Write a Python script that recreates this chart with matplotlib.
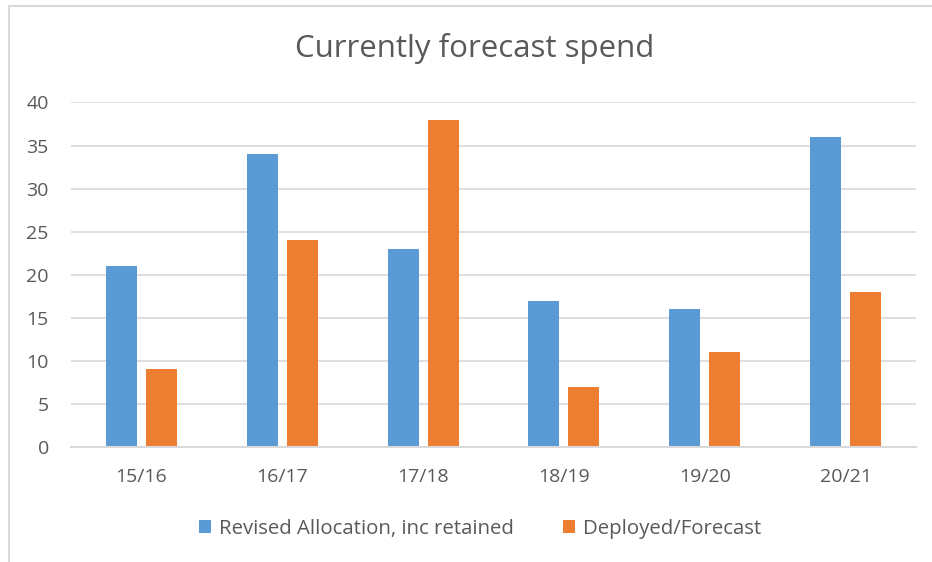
import numpy as np
import matplotlib
matplotlib.use("Agg")
import matplotlib.pyplot as plt
from matplotlib.patches import Rectangle

plt.rcParams['font.family'] = ['Open Sans', 'DejaVu Sans']

# data
years = ["15/16", "16/17", "17/18", "18/19", "19/20", "20/21"]
revised = [21, 34, 23, 17, 16, 36]
deployed = [9, 24, 38, 7, 11, 18]

blue = "#5B9BD5"
orange = "#ED7D31"
text_col = "#595959"
grid_col = "#D9D9D9"

fig = plt.figure(figsize=(9.32, 5.62), dpi=100)
W, H = 932, 562

# outer chart border (light grey, clipped by image edges)
fig.patches.append(Rectangle((9 / W, -0.1), 1.2, (H - 6) / H + 0.1, transform=fig.transFigure,
                             fill=False, edgecolor=grid_col, linewidth=1.5))

ax = fig.add_axes([71 / W, (H - 447) / H, (916 - 71) / W, (447 - 102.5) / H])

x = np.arange(len(years))
w = 0.22
off = 0.142
ax.bar(x - off, revised, w, color=blue, label="Revised Allocation, inc retained", zorder=3)
ax.bar(x + off, deployed, w, color=orange, label="Deployed/Forecast", zorder=3)

ax.set_xlim(-0.5, len(years) - 0.5)
ax.set_ylim(0, 40)
ax.set_yticks(range(0, 41, 5))
ax.set_xticks(x)
ax.set_xticklabels(years)
ax.yaxis.grid(True, color=grid_col, linewidth=1.2, zorder=0)
for s in ["top", "right", "left"]:
    ax.spines[s].set_visible(False)
ax.spines["bottom"].set_color(grid_col)
ax.spines["bottom"].set_linewidth(1.5)
ax.spines["bottom"].set_zorder(4)
ax.tick_params(axis="both", length=0, labelsize=14, colors=text_col)
ax.tick_params(axis="y", pad=16)
ax.tick_params(axis="x", pad=15)

fig.text(0.5 * (293 + 656) / W, 1 - 49 / H, "Currently forecast spend", ha="center", va="center",
         fontsize=22.5, color=text_col)

leg = fig.legend(loc="center", bbox_to_anchor=(480 / W, 1 - 529 / H), ncol=2, frameon=False,
                 fontsize=14.7, handlelength=0.6, handleheight=0.6, handletextpad=0.4,
                 columnspacing=2.4)
for t in leg.get_texts():
    t.set_color(text_col)

fig.savefig("out.png", dpi=100)
